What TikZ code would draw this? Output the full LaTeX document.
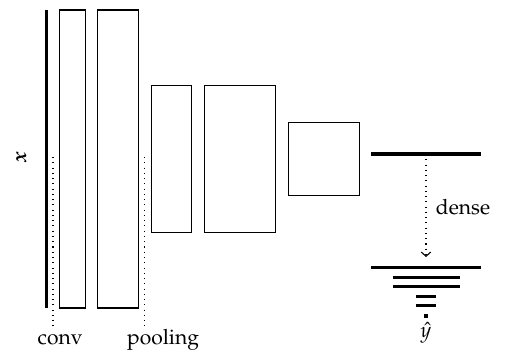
\documentclass[tikz,border=0pt]{standalone}
\usepackage[T1]{fontenc}
\usepackage{mathpazo}
\usepackage{amsmath}
\usetikzlibrary{arrows.meta}
\begin{document}
\begin{tikzpicture}[x=0.475pt,y=-0.475pt,
  box/.style={draw, line width=0.5pt, inner sep=0pt, outer sep=0pt},
  bar/.style={line width=1.5pt},
  guide/.style={dotted, line width=0.5pt},
  lbl/.style={inner sep=0pt, font=\fontsize{10}{12}\selectfont}]
\useasboundingbox (0,0) rectangle (506,354);
% input vector
\draw[bar] (46.3,10) coordinate (xt) -- (46.3,308) coordinate (xb);
\node[lbl, rotate=90] (xl) at (21.5,157.5) {\textbf{\textit{x}}};
% feature maps
\node[box, minimum width=26*0.475pt, minimum height=298*0.475pt] (c1) at (72.5,159) {};
\node[box, minimum width=40.5*0.475pt, minimum height=298*0.475pt] (c2) at (118.2,159) {};
\node[box, minimum width=40.5*0.475pt, minimum height=147*0.475pt] (p1) at (171.7,159) {};
\node[box, minimum width=71*0.475pt, minimum height=147*0.475pt] (p2) at (240.2,159) {};
\node[box, minimum width=70.6*0.475pt, minimum height=73.4*0.475pt] (q1) at (324,159) {};
% guides
\coordinate (g1t) at (53,157);
\coordinate (g1b) at (53,326);
\coordinate (g2t) at (144.5,157);
\coordinate (g2b) at (144.5,326);
\draw[guide] (g1t) -- (g1b);
\draw[guide] (g2t) -- (g2b);
\node[lbl, anchor=base west] (conv) at (37.3,345) {conv};
\node[lbl, anchor=base west] (pool) at (126.7,345) {pooling};
% dense layer
\draw[bar] (371,154) coordinate (hl) -- (481,154) coordinate (hr);
\coordinate (hm) at (426,154);
\coordinate (am) at (426,257);
\draw[guide, -{Straight Barb[length=2pt,width=4.5pt,line width=0.5pt]}] (hm) -- (am);
\node[lbl, anchor=west] (dense) at (435.5,207) {dense};
% output
\draw[bar] (371,267.7) -- (481,267.7);
\draw[bar] (392.7,277.3) -- (460,277.3);
\draw[bar] (392.7,286.7) -- (460,286.7);
\draw[bar] (416,296.7) -- (436.3,296.7);
\draw[bar] (416,305.7) -- (436.3,305.7);
\draw[bar] (424,316) -- (428,316);
\node[lbl] (yhat) at (426,333) {$\hat{y}$};
\end{tikzpicture}
\end{document}
